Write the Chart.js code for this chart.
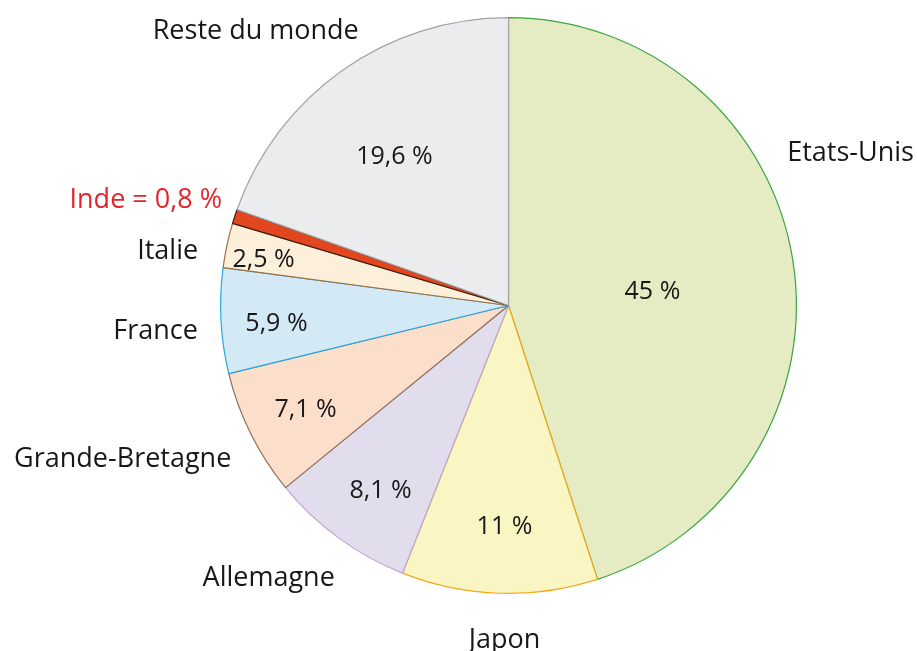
<!DOCTYPE html>
<html>
<head>
<meta charset="utf-8">
<script src="https://cdn.jsdelivr.net/npm/chart.js@4/dist/chart.umd.min.js"></script>
<style>
  body { margin: 0; background: #fff; }
  canvas { display: block; }
</style>
</head>
<body>
<canvas id="pie-chart" width="917" height="651"></canvas>
<script>
// parts in %, clockwise from 12 o'clock
var countries = ["Etats-Unis", "Japon", "Allemagne", "Grande-Bretagne", "France", "Italie", "Inde", "Reste du monde"];
var shares = [45, 11, 8.1, 7.1, 5.9, 2.5, 0.8, 19.6];
var valueLabels = ["45 %", "11 %", "8,1 %", "7,1 %", "5,9 %", "2,5 %", "", "19,6 %"];
var nameLabels = ["Etats-Unis", "Japon", "Allemagne", "Grande-Bretagne", "France", "Italie", "Inde = 0,8 %", "Reste du monde"];

var fills = ["#e5ebc3", "#faf6c4", "#e1ddec", "#fbdfca", "#d3e9f6", "#fcf0da", "#e2461f", "#ebecee"];
var borders = ["#3aa53f", "#f5a91b", "#c3a3cc", "#8b6e5a", "#27aae1", "#a0703f", "#3c1f10", "#a3a3a3"];

// where the texts sit, as fractions of the radius from the centre (x, baseline y)
var valuePos = [[0.50, -0.024], [-0.014, 0.792], [-0.444, 0.667], [-0.705, 0.389], [-0.806, 0.090], [-0.851, -0.132], null, [-0.396, -0.490]];
var namePos = [[1.188, -0.503], [-0.014, 1.188], [-0.833, 0.976], [-1.340, 0.5625], [-1.226, 0.118], [-1.184, -0.163], [-1.260, -0.340], [-0.878, -0.927]];

var labelPlugin = {
  id: 'pieLabels',
  afterDraw: function (chart) {
    var ctx = chart.ctx;
    var arcs = chart.getDatasetMeta(0).data;
    ctx.save();
    ctx.textAlign = 'center';
    ctx.textBaseline = 'alphabetic';
    for (var i = 0; i < arcs.length; i++) {
      var a = arcs[i];
      var r = a.outerRadius;
      if (valuePos[i]) {
        ctx.font = '25px "Open Sans"';
        ctx.fillStyle = '#1a1718';
        ctx.fillText(valueLabels[i], a.x + valuePos[i][0] * r, a.y + valuePos[i][1] * r);
      }
      ctx.font = '27px "Open Sans"';
      ctx.fillStyle = (countries[i] === "Inde") ? '#e3242b' : '#1a1718';
      ctx.fillText(nameLabels[i], a.x + namePos[i][0] * r, a.y + namePos[i][1] * r);
    }
    ctx.restore();
  }
};

new Chart(document.getElementById("pie-chart"), {
  type: 'pie',
  data: {
    labels: countries,
    datasets: [{
      data: shares,
      backgroundColor: fills,
      borderColor: borders,
      borderWidth: 1.2
    }]
  },
  options: {
    responsive: false,
    animation: false,
    layout: {
      padding: { left: 220, right: 120, top: 17, bottom: 57 }
    },
    plugins: {
      legend: { display: false },
      tooltip: { enabled: false }
    }
  },
  plugins: [labelPlugin]
});
</script>
</body>
</html>
